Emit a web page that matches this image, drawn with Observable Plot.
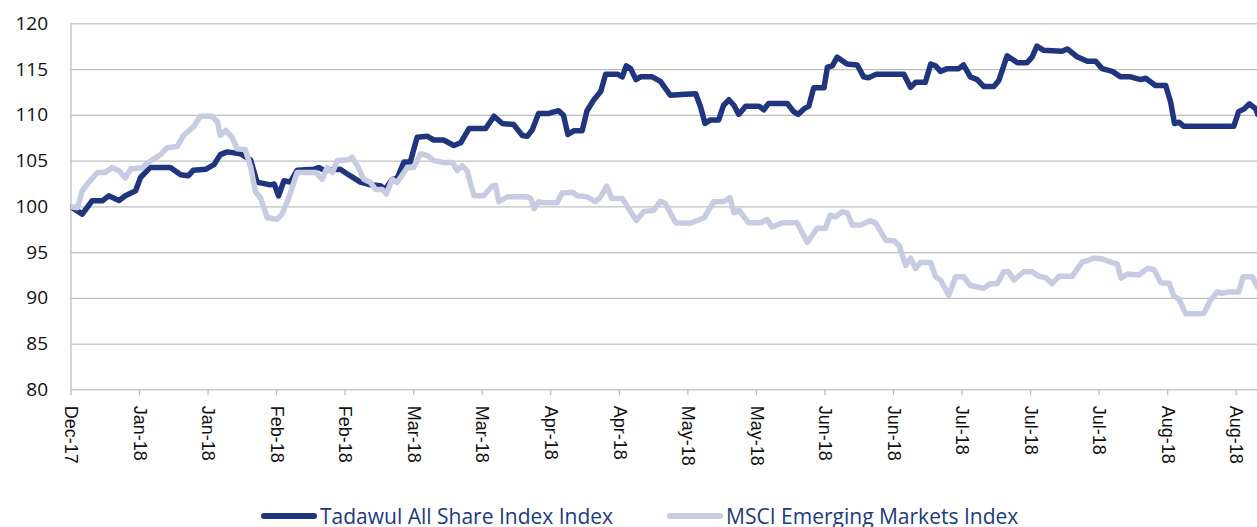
<!DOCTYPE html>
<html>
<head>
<meta charset="utf-8">
<script src="https://cdn.jsdelivr.net/npm/d3@7"></script>
<script src="https://cdn.jsdelivr.net/npm/@observablehq/plot@0.6"></script>
<style>
  html, body { margin: 0; padding: 0; background: #ffffff; }
  #chart svg { display: block; }
  .legend { display: flex; align-items: center; height: 27px; margin-left: 261px;
            font-family: "Open Sans", sans-serif; font-size: 21px; color: #203a80; white-space: nowrap; }
  .item { display: flex; align-items: center; }
  .sw { display: inline-block; width: 56px; height: 6px; border-radius: 3px; margin-right: 3px; }
</style>
</head>
<body>
<div id="chart"></div>
<div class="legend">
  <div class="item"><span class="sw" style="background:#1f3580"></span><span id="l1"></span></div>
  <div class="item" style="margin-left:54px"><span class="sw" style="background:#c8cce2"></span><span id="l2"></span></div>
</div>
<script>
// Series names
const seriesNames = ["Tadawul All Share Index Index", "MSCI Emerging Markets Index"];
const seriesColors = ["#1f3580", "#c8cce2"];

// Start date of the series (rebased to 100)
const startDate = "2017-12-31";
const endDay = 242.35; // visible range end, days after start

// X-axis ticks (every two weeks) and their labels
const tickDates = ["2017-12-31","2018-01-14","2018-01-28","2018-02-11","2018-02-25","2018-03-11","2018-03-25",
  "2018-04-08","2018-04-22","2018-05-06","2018-05-20","2018-06-03","2018-06-17","2018-07-01","2018-07-15",
  "2018-07-29","2018-08-12","2018-08-26"];
const tickLabels = ["Dec-17","Jan-18","Jan-18","Feb-18","Feb-18","Mar-18","Mar-18","Apr-18","Apr-18",
  "May-18","May-18","Jun-18","Jun-18","Jul-18","Jul-18","Jul-18","Aug-18","Aug-18"];
const yTicks = [80, 85, 90, 95, 100, 105, 110, 115, 120];

// Tadawul: days after start date, index value
const tasiDay = [0,2.3,4.3,6.4,7.7,9.8,11.1,13.2,14.2,16.2,20.3,22.4,24,25,27.5,29.2,30.5,31.9,34.6,36.7,38,40.7,41.5,
  42.4,43.5,44.8,46.2,49.6,50.6,51.6,55,57,59.1,61.2,63.2,64.2,65.6,66.6,68,69.3,70.7,72.8,74.1,76.1,78.2,79.6,
  81.3,84.7,86.4,88.1,90.4,92.2,93.2,94.2,95.5,97.6,99.6,100.6,101.5,102.7,104.4,105.4,106.8,108.2,109.2,111.6,
  112.6,113.4,114.3,115.4,116.3,118.7,120.4,122.4,125.5,127.6,128.6,129.5,130.6,132.3,133.3,134.4,135.4,136.4,
  137.8,140.5,141.5,142.5,146.3,147.6,148.5,149.7,150.7,151.7,153.8,154.5,155.5,156.5,158.5,160.6,161.9,162.9,
  164.5,170.1,171.5,172.5,174.5,175.6,176.6,177.6,179,181.3,182.3,183.7,185.1,186.4,188.5,189.5,191.2,193.3,
  195.3,196.3,197.3,198.7,202.4,203.5,205.5,207.6,209.3,210.6,212.7,214.4,216.4,218.5,219.5,221.5,223.6,224.6,
  225.4,226.3,227.3,237.5,238.5,239.6,240.7,242,242.4];
const tasiValue = [100,99.2,100.65,100.65,101.2,100.7,101.2,101.75,103.2,104.3,104.3,103.5,103.4,104,104.1,104.6,
  105.7,106,105.8,105.1,102.7,102.4,102.5,101.2,102.85,102.7,104,104.1,104.3,104,104.1,103.4,102.7,102.4,102.3,
  101.9,103,103.1,104.9,104.9,107.6,107.7,107.3,107.3,106.7,107,108.55,108.55,109.9,109.1,109,107.8,107.7,108.4,
  110.2,110.2,110.5,110,107.9,108.3,108.3,110.5,111.7,112.6,114.5,114.5,114.2,115.4,115.1,113.9,114.2,114.2,
  113.7,112.2,112.3,112.35,110.9,109.1,109.5,109.5,111.1,111.7,111.1,110.1,111,111,110.6,111.3,111.3,110.4,
  110.1,110.7,111,113,113,115.25,115.4,116.35,115.6,115.5,114.2,114.1,114.5,114.5,113.05,113.6,113.6,115.6,
  115.4,114.8,115.1,115.1,115.5,114.2,113.9,113.15,113.15,113.8,116.5,115.75,115.75,116.35,117.55,117.1,117,
  117.25,116.4,115.9,115.9,115.1,114.8,114.2,114.2,113.9,114.05,113.25,113.25,111.45,109.1,109.25,108.8,108.8,
  110.4,110.7,111.25,110.7,110.1];

// MSCI EM: days after start date, index value
const msciDay = [0,1.3,2.3,3.6,5.4,7,8.4,9.8,11.1,12.2,14.5,15.9,18.3,19.6,21.7,23,25.1,26.4,28.8,29.9,30.5,31.6,
  32.9,33.9,35.6,36.7,37.7,38.7,40.1,42.1,43.1,44.5,46.2,50,51.3,52.3,53.4,54.4,56.7,57.4,58.5,59.8,61.2,62.2,
  63.6,64.4,65.6,66.6,68.7,70,71.4,72.8,74.1,76.1,77.9,78.9,79.9,80.9,82.3,84.3,86,86.7,87.4,89.1,93.2,93.9,
  94.6,95.5,96.6,99.3,100.3,102.4,103.4,105.4,107.1,108.2,109.4,110.5,112.6,113.9,115.5,117,119,120.4,121.4,
  123.5,126.5,129.3,131.3,133.3,134.6,135.4,136.4,138.4,140.8,142.2,143.2,145.3,148.3,150.4,152.4,154.1,155.1,
  156.2,157.5,158.6,159.6,161.3,163.3,164.4,166.4,168.1,169.1,170.5,171.5,172.5,173.5,175.6,176.6,177.6,179.3,
  180.7,182.3,183.7,186.4,187.8,189.2,190.5,191.5,192.6,194.6,196.3,197.7,199.1,200.4,201.8,204.5,206.6,207.6,
  208.9,210.6,212.7,213.7,214.5,215.8,218.1,219.8,221.2,222.6,224.3,225.3,226.3,227.7,231.4,232.7,234.1,235.1,
  236.5,238.5,239.4,241.3,242.3];
const msciValue = [100,99.9,101.75,102.65,103.75,103.75,104.3,103.95,103.15,104.15,104.25,104.9,105.7,106.45,106.6,
  107.8,108.8,109.9,109.9,109.3,107.8,108.35,107.6,106.35,106.25,104.35,101.6,101,98.8,98.65,99.2,101,103.75,
  103.75,103,104.3,103.75,105.05,105.15,105.4,104.5,103,102.65,101.9,101.9,101.4,103,102.65,104.3,104.3,105.8,
  105.6,105.05,104.85,104.85,103.95,104.5,103.95,101.2,101.2,102.25,102.35,100.55,101.1,101.1,100.9,99.8,100.55,
  100.45,100.45,101.5,101.6,101.2,101.1,100.55,101.1,102.25,100.9,100.9,99.8,98.5,99.5,99.6,100.6,100.35,98.25,
  98.2,98.8,100.55,100.55,101,99.35,99.65,98.25,98.25,98.6,97.8,98.25,98.25,96.1,97.65,97.65,99.1,98.9,99.45,
  99.3,98,98,98.5,98.2,96.35,96.3,95.8,93.6,94.4,93.25,93.9,93.9,92.35,92,90.35,92.35,92.35,91.4,91.1,91.6,91.6,
  92.9,92.9,92,92.9,92.9,92.4,92.25,91.6,92.4,92.4,94,94.1,94.4,94.3,93.9,93.75,92.2,92.65,92.55,93.25,93.15,
  91.7,91.65,90.2,89.9,88.3,88.35,89.75,90.7,90.55,90.7,90.7,92.35,92.35,91.25];

const t0 = new Date(startDate + "T00:00:00Z").getTime();
const toDate = d => new Date(t0 + d * 864e5);
const tasi = tasiDay.map((d, i) => ({date: toDate(d), value: tasiValue[i]}));
const msci = msciDay.map((d, i) => ({date: toDate(d), value: msciValue[i]}));
const ticks = tickDates.map(s => new Date(s + "T00:00:00Z"));

const grid = "#bfbfbf";
const chart = Plot.plot({
  width: 1257,
  height: 502,
  marginLeft: 70.5,
  marginRight: 0,
  marginTop: 23.3,
  marginBottom: 112.7,
  style: {fontFamily: "'Open Sans', sans-serif", background: "#ffffff", overflow: "visible"},
  x: {type: "utc", domain: [toDate(0), toDate(endDay)]},
  y: {domain: [80, 120]},
  marks: [
    Plot.gridY(yTicks.filter(v => v > 80), {stroke: grid, strokeOpacity: 1, strokeWidth: 1.3}),
    Plot.ruleY([80], {stroke: grid, strokeWidth: 1.3}),
    Plot.ruleX([toDate(0)], {stroke: grid, strokeWidth: 1.3}),
    Plot.axisY(yTicks, {tickSize: 0, tickPadding: 23, fontSize: 19, fill: "#111111", label: null}),
    Plot.axisX(ticks, {tickSize: 6, tickPadding: 10, tickRotate: 90, stroke: grid, strokeWidth: 1.3,
      fill: "#111111", fontFamily: "'Liberation Sans', Arial, sans-serif", fontSize: 18,
      tickFormat: (d, i) => tickLabels[i], label: null}),
    Plot.lineY(tasi, {x: "date", y: "value", stroke: seriesColors[0], strokeWidth: 5.5, clip: true}),
    Plot.lineY(msci, {x: "date", y: "value", stroke: seriesColors[1], strokeWidth: 5.5, clip: true})
  ]
});
document.getElementById("chart").appendChild(chart);
document.getElementById("l1").textContent = seriesNames[0];
document.getElementById("l2").textContent = seriesNames[1];
</script>
</body>
</html>
